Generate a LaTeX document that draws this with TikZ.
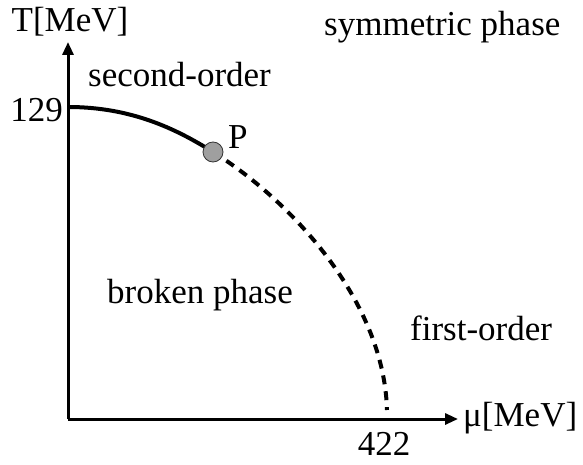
\documentclass[tikz,border=0pt]{standalone}
\usepackage{fontspec}
\setmainfont{Liberation Serif}
\usetikzlibrary{arrows.meta}
\begin{document}
\begin{tikzpicture}[x=1pt,y=-1pt,
  lbl/.style={font=\fontsize{35}{40}\selectfont, inner sep=0pt},
  axis/.style={line width=3pt, -{Triangle[length=13pt,width=11pt]}},
  curve/.style={line width=4pt}]
\useasboundingbox (0,0) rectangle (583,465);
\coordinate (O) at (68,419);
\coordinate (Ytop) at (68,42);
\coordinate (Xend) at (458,419);
\coordinate (A) at (68,107);
\coordinate (B) at (387,410);
\draw[axis] (O) -- (Ytop);
\draw[axis] (O) -- (Xend);
\draw[curve] (A) .. controls (130,107) and (175,128) .. (213,152);
\draw[curve, dash pattern=on 9pt off 7pt] (213,152) .. controls (290,200) and (384,300) .. (B);
\node[circle, draw=black!80, line width=0.8pt, fill=gray!75, minimum size=20pt, inner sep=0pt] (P) at (213,152) {};
\node[lbl, anchor=base] (T) at (70,32) {T[MeV]};
\node[lbl, anchor=base west] (sym) at (324,36) {symmetric phase};
\node[lbl, anchor=base west] (sec) at (88,87) {second-order};
\node[lbl, anchor=base east] (v129) at (63,122) {129};
\node[lbl, anchor=base west] (Plbl) at (228,149) {P};
\node[lbl, anchor=base west] (brk) at (107,303) {broken phase};
\node[lbl, anchor=base west] (fst) at (410,340) {first-order};
\node[lbl, anchor=base] (v422) at (384,455) {422};
\node[lbl, anchor=base west] (mu) at (463,426) {μ[MeV]};
\end{tikzpicture}
\end{document}
